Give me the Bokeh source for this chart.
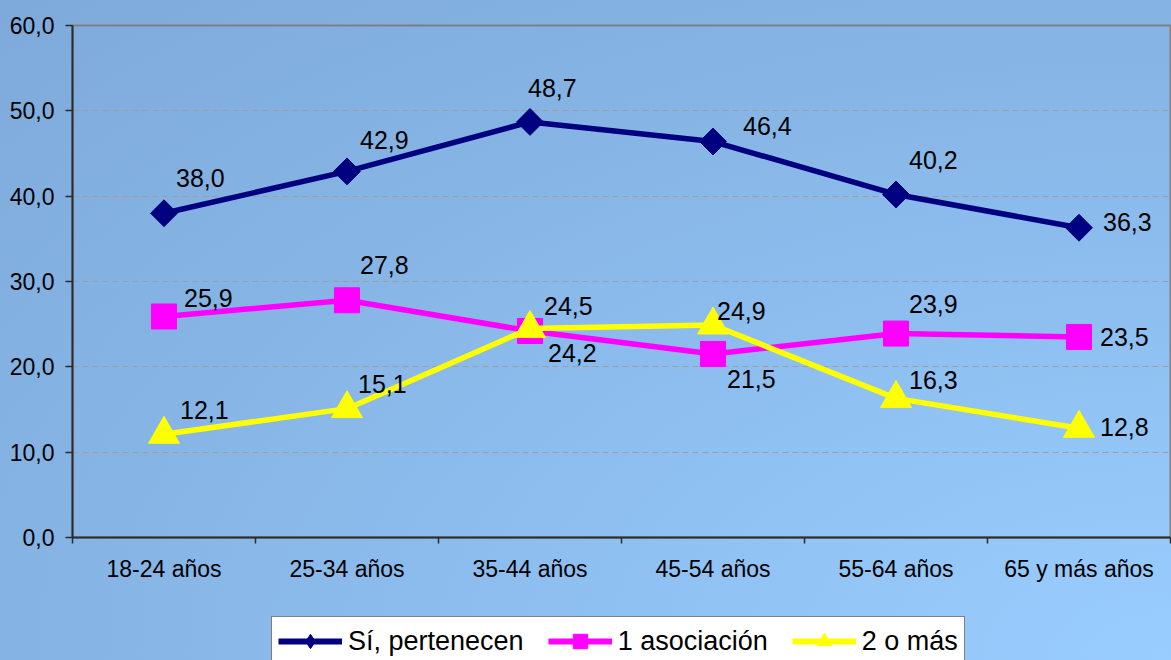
import numpy as np
from bokeh.plotting import figure
from bokeh.layouts import column
from bokeh.models import Range1d, FixedTicker, Legend, LegendItem
from bokeh.core.properties import value
from bokeh.embed import file_html
from bokeh.resources import INLINE

# ---------------- data ----------------
categories = ["18-24 años", "25-34 años", "35-44 años", "45-54 años", "55-64 años", "65 y más años"]
si_pertenecen = [38.0, 42.9, 48.7, 46.4, 40.2, 36.3]
una_asociacion = [25.9, 27.8, 24.2, 21.5, 23.9, 23.5]
dos_o_mas = [12.1, 15.1, 24.5, 24.9, 16.3, 12.8]
series_names = ["Sí, pertenecen", "1 asociación", "2 o más"]
y_ticks = [0, 10, 20, 30, 40, 50, 60]
y_tick_labels = ["0,0", "10,0", "20,0", "30,0", "40,0", "50,0", "60,0"]

# ---------------- styles ----------------
FONT_NAME = "Liberation Sans"
FONT = value(FONT_NAME)
colors = ["#000080", "#FF00FF", "#FFFF00"]
# per-point label offsets in screen pixels (dx, dy) -- style only
label_offsets = [
    [(12, -35), (13, -31), (-2, -34), (30, -16), (13, -34), (24, -6)],
    [(20, -18), (13, -35), (18, 22), (14, 25), (13, -30), (21, 0)],
    [(16, -24), (11, -25), (14, -22), (4, -14), (13, -18), (21, -1)],
]

xs = [i + 0.5 for i in range(len(categories))]

p = figure(width=1171, height=600, output_backend="svg", toolbar_location=None,
           x_range=Range1d(0, len(categories)), y_range=Range1d(y_ticks[0], y_ticks[-1]),
           min_border_left=72, min_border_top=25, min_border_bottom=63, min_border_right=1)

p.background_fill_color = None
p.border_fill_color = None
p.outline_line_color = "#808080"
p.outline_line_width = 2

# grid
p.xgrid.visible = False
p.ygrid.ticker = FixedTicker(ticks=y_ticks)
p.ygrid.grid_line_color = "#9E9E9E"
p.ygrid.grid_line_dash = "6 4"
p.ygrid.grid_line_width = 1

# y axis
ya = p.yaxis[0]
ya.ticker = FixedTicker(ticks=y_ticks)
ya.major_label_overrides = {t: l for t, l in zip(y_ticks, y_tick_labels)}
ya.major_tick_out = 7
ya.major_tick_in = 0
ya.minor_tick_out = 0
ya.minor_tick_in = 0
ya.axis_line_color = "#2b2b2b"
ya.axis_line_width = 2
ya.major_tick_line_color = "#2b2b2b"
ya.major_tick_line_width = 1.5
ya.major_label_standoff = 11
ya.major_label_text_font = FONT_NAME
ya.major_label_text_font_size = "23px"
ya.major_label_text_color = "black"

# x axis: labels at centers, ticks at boundaries (minor ticks)
xa = p.xaxis[0]
xa.ticker = FixedTicker(ticks=xs, minor_ticks=list(range(len(categories) + 1)))
xa.major_label_overrides = {x: c for x, c in zip(xs, categories)}
xa.major_tick_out = 0
xa.major_tick_in = 0
xa.minor_tick_out = 6
xa.minor_tick_in = 0
xa.minor_tick_line_color = "#2b2b2b"
xa.minor_tick_line_width = 1.5
xa.axis_line_color = "#2b2b2b"
xa.axis_line_width = 2
xa.major_label_standoff = 12
xa.major_label_text_font = FONT_NAME
xa.major_label_text_font_size = "23px"
xa.major_label_text_color = "black"

# ---------------- series ----------------
all_series = [si_pertenecen, una_asociacion, dos_o_mas]
marker_kw = [
    dict(marker="square", angle=np.pi / 4, size=19),
    dict(marker="square", size=25),
    dict(marker="triangle", size=31),
]
legend_markers = ["diamond", "square", "triangle"]

for vals, col, mk in zip(all_series, colors, marker_kw):
    p.line(xs, vals, line_color=col, line_width=5.5)
    p.scatter(xs, vals, fill_color=col, line_color=col, **mk)

for vals, offs in zip(all_series, label_offsets):
    p.text(xs, vals, text=[f"{v:.1f}".replace(".", ",") for v in vals],
           x_offset=[o[0] for o in offs], y_offset=[o[1] for o in offs],
           text_align="left", text_baseline="middle",
           text_font=FONT, text_font_size="25px", text_color="black")

# ---------------- legend strip (own figure so it is not clipped) ----------------
lg = figure(width=1171, height=60, output_backend="svg", toolbar_location=None,
            x_range=Range1d(0, 1), y_range=Range1d(0, 1),
            x_axis_location=None, y_axis_location=None,
            min_border_left=0, min_border_right=0, min_border_top=0, min_border_bottom=0)
lg.background_fill_color = None
lg.border_fill_color = None
lg.outline_line_color = None
lg.grid.visible = False

legend_items = []
for name, col, mk in zip(series_names, colors, legend_markers):
    lr = lg.line([0], [np.nan], line_color=col, line_width=6)
    sr = lg.scatter([0], [np.nan], marker=mk, fill_color=col, line_color=col)
    legend_items.append(LegendItem(label=name, renderers=[lr, sr]))

legend = Legend(items=legend_items, orientation="horizontal", location=(199, -6))
legend.label_text_font = FONT_NAME
legend.label_text_font_size = "27px"
legend.label_text_color = "black"
legend.glyph_width = 64
legend.glyph_height = 36
legend.label_height = 36
legend.label_standoff = 6
legend.spacing = 24
legend.padding = 6
legend.margin = 0
legend.border_line_color = "black"
legend.border_line_width = 1
legend.background_fill_color = "white"
legend.background_fill_alpha = 1
lg.add_layout(legend, "center")

layout = column(p, lg, spacing=0)
layout.styles = {"background": "radial-gradient(ellipse farthest-corner at 100% 100%, "
                               "#9ACDFF 0%, #8FC0F2 35%, #85B3E3 70%, #7DAADA 100%)"}

open("out.html", "w").write(file_html(layout, INLINE))
